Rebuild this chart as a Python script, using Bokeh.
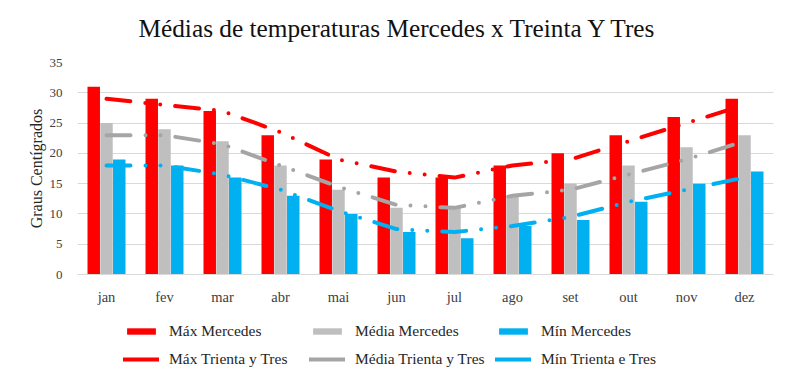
from bokeh.plotting import figure
from bokeh.layouts import column
from bokeh.models import (FactorRange, Range1d, FixedTicker, Legend, LegendItem,
                          ColumnDataSource, Label)
from bokeh.transform import dodge
from bokeh.embed import file_html
from bokeh.resources import INLINE

months = ["jan", "fev", "mar", "abr", "mai", "jun", "jul", "ago", "set", "out", "nov", "dez"]
max_mercedes = [31, 29, 27, 23, 19, 16, 16, 18, 20, 23, 26, 29]
media_mercedes = [25, 24, 22, 18, 14, 11, 11, 13, 15, 18, 21, 23]
min_mercedes = [19, 18, 16, 13, 10, 7, 6, 8, 9, 12, 15, 17]
max_tyt = [29, 28, 27, 23.5, 19, 17, 16, 18, 19, 22, 25, 28]
media_tyt = [23, 23, 21.5, 18, 14.5, 11.5, 11, 13, 14, 16.5, 19, 22]
min_tyt = [18, 18, 16.5, 14, 10.5, 7.5, 7, 8, 9.5, 12, 14, 16]
y_ticks = [0, 5, 10, 15, 20, 25, 30, 35]
series_labels = ["Máx Mercedes", "Média Mercedes", "Mín Mercedes",
                 "Máx Trienta y Tres", "Média Trienta y Tres", "Mín Trienta e Tres"]
title_text = "Médias de temperaturas Mercedes x Treinta Y Tres"

FONT = "Liberation Serif"
RED = "#FF0000"
GREY_BAR = "#BFBFBF"
GREY_LINE = "#A5A5A5"
BLUE = "#00B0F0"
DASH = "24 15 0 15 0 15"
W = 790
BL, BR = 77, 17

src = ColumnDataSource(dict(month=months, max_m=max_mercedes, med_m=media_mercedes,
                            min_m=min_mercedes, max_t=max_tyt, med_t=media_tyt, min_t=min_tyt))

# ---- title strip ----
tf = figure(width=W, height=52, x_range=Range1d(0, 1), y_range=Range1d(0, 1),
            output_backend="svg", toolbar_location=None,
            x_axis_location=None, y_axis_location=None,
            min_border_left=BL, min_border_right=BR, min_border_top=0, min_border_bottom=0)
tf.outline_line_color = None
tf.grid.grid_line_color = None
tf.add_layout(Label(x=61, y=25, x_units="screen", y_units="screen", text=title_text,
                    text_font=FONT, text_font_size="25.3px", text_color="#111111",
                    text_baseline="alphabetic", text_align="left"))

# ---- main chart ----
p = figure(x_range=FactorRange(*months), y_range=Range1d(0, 35),
           width=W, height=258, output_backend="svg", toolbar_location=None,
           min_border_left=BL, min_border_right=BR, min_border_top=10, min_border_bottom=36)
p.outline_line_color = None

bw = 0.215
p.vbar(x=dodge("month", -0.22, range=p.x_range), top="max_m", width=bw, source=src,
       fill_color=RED, line_color=None)
p.vbar(x=dodge("month", 0.0, range=p.x_range), top="med_m", width=bw, source=src,
       fill_color=GREY_BAR, line_color=None)
p.vbar(x=dodge("month", 0.22, range=p.x_range), top="min_m", width=bw, source=src,
       fill_color=BLUE, line_color=None)
for col, c in (("max_t", RED), ("med_t", GREY_LINE), ("min_t", BLUE)):
    p.line(x="month", y=col, source=src, line_color=c, line_width=4,
           line_dash=DASH, line_cap="round", line_join="round")

p.yaxis.ticker = FixedTicker(ticks=y_ticks)
p.yaxis.axis_line_color = None
p.yaxis.major_tick_line_color = None
p.yaxis.minor_tick_line_color = None
p.yaxis.major_tick_out = 0
p.yaxis.major_tick_in = 0
p.yaxis.major_label_standoff = 15
p.yaxis.major_label_text_font = FONT
p.yaxis.major_label_text_font_size = "13px"
p.yaxis.major_label_text_color = "#404040"
p.yaxis.axis_label = "Graus Centígrados"
p.yaxis.axis_label_text_font = FONT
p.yaxis.axis_label_text_font_size = "16px"
p.yaxis.axis_label_text_font_style = "normal"
p.yaxis.axis_label_text_color = "#262626"
p.yaxis.axis_label_standoff = 2

p.xaxis.axis_line_color = "#D9D9D9"
p.xaxis.axis_line_width = 1
p.xaxis.major_tick_line_color = None
p.xaxis.minor_tick_line_color = None
p.xaxis.major_tick_out = 0
p.xaxis.major_tick_in = 0
p.xaxis.major_label_standoff = 14
p.xaxis.major_label_text_font = FONT
p.xaxis.major_label_text_font_size = "14.5px"
p.xaxis.major_label_text_color = "#404040"

p.xgrid.grid_line_color = None
p.ygrid.grid_line_color = "#D9D9D9"
p.ygrid.grid_line_width = 1

# ---- legend strip (renderers share the data but sit outside the visible range) ----
lf = figure(width=W, height=66, x_range=FactorRange(*months), y_range=Range1d(100, 101),
            output_backend="svg", toolbar_location=None,
            x_axis_location=None, y_axis_location=None,
            min_border_left=BL, min_border_right=BR, min_border_top=0, min_border_bottom=0)
lf.outline_line_color = None
lf.grid.grid_line_color = None
lr = [
    lf.vbar(x="month", top="max_m", width=0.2, source=src, fill_color=RED, line_color=None),
    lf.vbar(x="month", top="med_m", width=0.2, source=src, fill_color=GREY_BAR, line_color=None),
    lf.vbar(x="month", top="min_m", width=0.2, source=src, fill_color=BLUE, line_color=None),
    lf.line(x="month", y="max_t", source=src, line_color=RED, line_width=4, line_cap="round"),
    lf.line(x="month", y="med_t", source=src, line_color=GREY_LINE, line_width=4, line_cap="round"),
    lf.line(x="month", y="min_t", source=src, line_color=BLUE, line_width=4, line_cap="round"),
]
legend = Legend(items=[LegendItem(label=lab, renderers=[r]) for lab, r in zip(series_labels, lr)],
                orientation="horizontal", ncols=3)
legend.label_text_font = FONT
legend.label_text_font_size = "15.5px"
legend.label_text_color = "#262626"
legend.glyph_width = 36
legend.glyph_height = 8
legend.label_height = 20
legend.label_width = 132
legend.label_standoff = 10
legend.spacing = 8
legend.padding = 0
legend.margin = 0
legend.border_line_color = None
legend.background_fill_alpha = 0
legend.location = (46, 7)
lf.add_layout(legend, "center")

layout = column(tf, p, lf, spacing=0)
open("out.html", "w").write(file_html(layout, INLINE))
